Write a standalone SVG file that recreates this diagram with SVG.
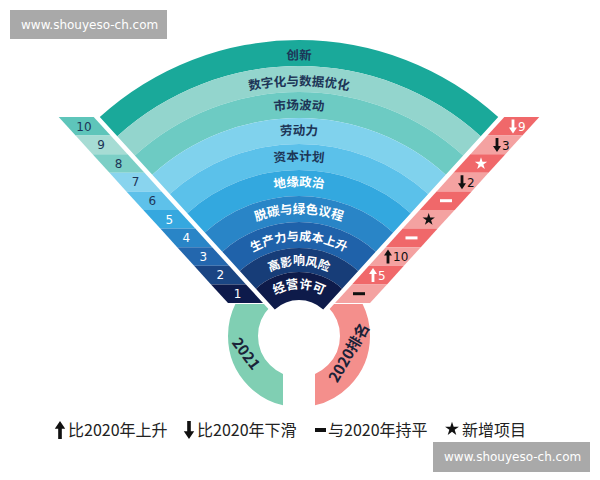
<svg xmlns="http://www.w3.org/2000/svg" xmlns:xlink="http://www.w3.org/1999/xlink" width="600" height="480" viewBox="0 0 600 480">
<style>
.lbl{font-family:"Noto Sans CJK SC","Noto Sans",sans-serif;font-size:12.5px;font-weight:bold;text-anchor:middle}
.sm{font-size:12px}
.dk{fill:#1d3557}
.wt{fill:#ffffff}
.num{font-family:"DejaVu Sans",sans-serif;font-size:12px;text-anchor:middle}
.rn{font-family:"DejaVu Sans",sans-serif;font-size:12px}
.leg{font-family:"Noto Sans CJK SC","Noto Sans",sans-serif;font-size:16px;fill:#222}
.wm{font-family:"DejaVu Sans",sans-serif;font-size:12px;fill:#ffffff}
.ring{font-family:"Noto Sans CJK SC","DejaVu Sans",sans-serif;font-size:15px;font-weight:bold;fill:#1a2238;text-anchor:middle;dominant-baseline:central}
</style>
<defs>
<path id="ad" d="M-1.4,-7 H1.4 V1 H4 L0,7 L-4,1 H-1.4 Z"/>
<path id="au" d="M-1.4,7 H1.4 V-1 H4 L0,-7 L-4,-1 H-1.4 Z"/>
<path id="st" d="M0,-6.5 L1.47,-2.02 L6.18,-2.01 L2.38,0.77 L3.82,5.26 L0,2.5 L-3.82,5.26 L-2.38,0.77 L-6.18,-2.01 L-1.47,-2.02 Z"/>
<path id="t1" d="M39.2 241.4 A276.5 276.5 0 0 1 558.8 241.4"/>
<path id="t2" d="M63.6 250.3 A250.5 250.5 0 0 1 534.4 250.3"/>
<path id="t3" d="M86.2 258.5 A226.5 226.5 0 0 1 511.8 258.5"/>
<path id="t4" d="M109.7 267.1 A201.5 201.5 0 0 1 488.3 267.1"/>
<path id="t5" d="M134.1 276 A175.5 175.5 0 0 1 463.9 276"/>
<path id="t6" d="M158.5 284.9 A149.5 149.5 0 0 1 439.5 284.9"/>
<path id="t7" d="M183.9 294.1 A122.5 122.5 0 0 1 414.1 294.1"/>
<path id="t8" d="M208.9 303.2 A96 96 0 0 1 389.1 303.2"/>
<path id="t9" d="M232.7 311.9 A70.5 70.5 0 0 1 365.3 311.9"/>
<path id="t10" d="M254.4 319.8 A47.5 47.5 0 0 1 343.6 319.8"/>
<clipPath id="cl"><polygon points="0,304 263.9,304 283,325 283,480 0,480"/></clipPath>
<clipPath id="cr"><polygon points="600,304 334.1,304 315,325 315,480 600,480"/></clipPath>
</defs>

<g id="watermark-top">
<rect x="10" y="10" width="157" height="29" fill="#a9a9a9"/>
<text class="wm" x="21" y="29">www.shouyeso-ch.com</text>
</g>

<g id="ring">
<circle cx="299" cy="336" r="56" fill="none" stroke="#80cfb3" stroke-width="30" clip-path="url(#cl)"/>
<circle cx="299" cy="336" r="56" fill="none" stroke="#f48f8c" stroke-width="30" clip-path="url(#cr)"/>
<text class="ring" transform="translate(247,353) rotate(53)">2021</text>
<text class="ring" transform="translate(348,352) rotate(-60)">2020排名</text>
</g>

<g id="fan">
<g id="band1"><path d="M99.8 117.1 A296 296 0 0 1 498.2 117.1 L480.7 136.3 A270 270 0 0 0 117.3 136.3 Z" fill="#1aa99a"/><text class="lbl dk"><textPath href="#t1" startOffset="50%">创新</textPath></text></g>
<g id="band2"><path d="M117.3 136.3 A270 270 0 0 1 480.7 136.3 L463.2 155.5 A244 244 0 0 0 134.8 155.5 Z" fill="#93d5cd"/><text class="lbl dk"><textPath href="#t2" startOffset="50%">数字化与数据优化</textPath></text></g>
<g id="band3"><path d="M134.8 155.5 A244 244 0 0 1 463.2 155.5 L445.7 174.8 A218 218 0 0 0 152.3 174.8 Z" fill="#6dcbc3"/><text class="lbl dk"><textPath href="#t3" startOffset="50%">市场波动</textPath></text></g>
<g id="band4"><path d="M152.3 174.8 A218 218 0 0 1 445.7 174.8 L428.2 194 A192 192 0 0 0 169.8 194 Z" fill="#80d2ed"/><text class="lbl dk"><textPath href="#t4" startOffset="50%">劳动力</textPath></text></g>
<g id="band5"><path d="M169.8 194 A192 192 0 0 1 428.2 194 L410.7 213.2 A166 166 0 0 0 187.3 213.2 Z" fill="#5bc1ea"/><text class="lbl dk"><textPath href="#t5" startOffset="50%">资本计划</textPath></text></g>
<g id="band6"><path d="M187.3 213.2 A166 166 0 0 1 410.7 213.2 L393.2 232.5 A140 140 0 0 0 204.8 232.5 Z" fill="#33a8df"/><text class="lbl wt"><textPath href="#t6" startOffset="50%">地缘政治</textPath></text></g>
<g id="band7"><path d="M204.8 232.5 A140 140 0 0 1 393.2 232.5 L375.7 251.7 A114 114 0 0 0 222.3 251.7 Z" fill="#2985c7"/><text class="lbl wt"><textPath href="#t7" startOffset="50%">脱碳与绿色议程</textPath></text></g>
<g id="band8"><path d="M222.3 251.7 A114 114 0 0 1 375.7 251.7 L358.2 270.9 A88 88 0 0 0 239.8 270.9 Z" fill="#1f62aa"/><text class="lbl sm wt"><textPath href="#t8" startOffset="50%">生产力与成本上升</textPath></text></g>
<g id="band9"><path d="M239.8 270.9 A88 88 0 0 1 358.2 270.9 L342.1 288.7 A64 64 0 0 0 255.9 288.7 Z" fill="#173d78"/><text class="lbl sm wt"><textPath href="#t9" startOffset="50%">高影响风险</textPath></text></g>
<g id="band10"><path d="M255.9 288.7 A64 64 0 0 1 342.1 288.7 L323.2 309.4 A36 36 0 0 0 274.8 309.4 Z" fill="#0e1b4a"/><text class="lbl wt"><textPath href="#t10" startOffset="50%">经营许可</textPath></text></g>
</g>

<g id="rank2021">
<polygon points="58.7,117 93.7,117 110.6,135.6 75.6,135.6" fill="#5ec5ba"/>
<polygon points="75.6,135.6 110.6,135.6 127.6,154.2 92.6,154.2" fill="#a6dcd4"/>
<polygon points="92.6,154.2 127.6,154.2 144.5,172.8 109.5,172.8" fill="#7ccfc6"/>
<polygon points="109.5,172.8 144.5,172.8 161.4,191.4 126.4,191.4" fill="#89d4ee"/>
<polygon points="126.4,191.4 161.4,191.4 178.3,210 143.3,210" fill="#5ec1ea"/>
<polygon points="143.3,210 178.3,210 195.3,228.6 160.3,228.6" fill="#36a8df"/>
<polygon points="160.3,228.6 195.3,228.6 212.2,247.2 177.2,247.2" fill="#2985c7"/>
<polygon points="177.2,247.2 212.2,247.2 229.1,265.8 194.1,265.8" fill="#2367ae"/>
<polygon points="194.1,265.8 229.1,265.8 246,284.4 211,284.4" fill="#1a4583"/>
<polygon points="211,284.4 246,284.4 263,303 228,303" fill="#0d1a4b"/>
<text class="num dk" x="84" y="130.6">10</text>
<text class="num dk" x="101" y="149.2">9</text>
<text class="num dk" x="118.6" y="167.8">8</text>
<text class="num dk" x="135.5" y="186.4">7</text>
<text class="num dk" x="152.4" y="205">6</text>
<text class="num wt" x="169.3" y="223.6">5</text>
<text class="num wt" x="186.3" y="242.2">4</text>
<text class="num wt" x="203.2" y="260.8">3</text>
<text class="num wt" x="220.2" y="279.4">2</text>
<text class="num wt" x="237.5" y="298">1</text>
</g>

<g id="rank2020">
<polygon points="504.3,117 539.3,117 522.4,135.6 487.4,135.6" fill="#f0686a"/>
<polygon points="487.4,135.6 522.4,135.6 505.4,154.2 470.4,154.2" fill="#f4a2a1"/>
<polygon points="470.4,154.2 505.4,154.2 488.5,172.8 453.5,172.8" fill="#f0686a"/>
<polygon points="453.5,172.8 488.5,172.8 471.6,191.4 436.6,191.4" fill="#f4a2a1"/>
<polygon points="436.6,191.4 471.6,191.4 454.7,210 419.7,210" fill="#f0686a"/>
<polygon points="419.7,210 454.7,210 437.7,228.6 402.7,228.6" fill="#f4a2a1"/>
<polygon points="402.7,228.6 437.7,228.6 420.8,247.2 385.8,247.2" fill="#f0686a"/>
<polygon points="385.8,247.2 420.8,247.2 403.9,265.8 368.9,265.8" fill="#f4a2a1"/>
<polygon points="368.9,265.8 403.9,265.8 387,284.4 352,284.4" fill="#f0686a"/>
<polygon points="352,284.4 387,284.4 370,303 335,303" fill="#f4a2a1"/>
<use href="#ad" x="513" y="126.5" fill="#fff"/><text class="rn wt" x="518" y="131">9</text>
<use href="#ad" x="497" y="145" fill="#111"/><text class="rn" fill="#111" x="502" y="149.5">3</text>
<use href="#st" x="481" y="163.8" fill="#fff"/>
<use href="#ad" x="462" y="182.3" fill="#111"/><text class="rn" fill="#111" x="467" y="186.8">2</text>
<rect x="440" y="199.2" width="12" height="3" fill="#fff"/>
<use href="#st" x="428.7" y="219.5" fill="#111"/>
<rect x="405.5" y="236.4" width="12" height="3" fill="#fff"/>
<use href="#au" x="388" y="256.5" fill="#111"/><text class="rn" fill="#111" x="393" y="261">10</text>
<use href="#au" x="373" y="275.1" fill="#fff"/><text class="rn wt" x="378" y="279.6">5</text>
<rect x="353" y="292.2" width="12" height="3" fill="#111"/>
</g>

<g id="legend">
<use href="#au" transform="translate(60,430) scale(1.3)" fill="#111"/>
<text class="leg" x="68" y="436">比2020年上升</text>
<use href="#ad" transform="translate(189,430) scale(1.3)" fill="#111"/>
<text class="leg" x="197" y="436">比2020年下滑</text>
<rect x="315" y="428" width="11" height="4" fill="#111"/>
<text class="leg" x="328" y="436">与2020年持平</text>
<use href="#st" transform="translate(452,429) scale(1.12)" fill="#111"/>
<text class="leg" x="462" y="436">新增项目</text>
</g>

<g id="watermark-bottom">
<rect x="433" y="442" width="157" height="30" fill="#a9a9a9"/>
<text class="wm" x="444" y="461">www.shouyeso-ch.com</text>
</g>
</svg>
